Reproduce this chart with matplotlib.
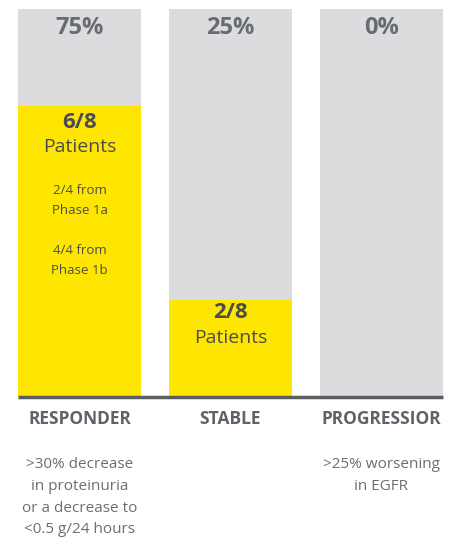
import matplotlib
matplotlib.use("Agg")
import matplotlib.pyplot as plt

plt.rcParams['font.family'] = ['Open Sans', 'DejaVu Sans']

categories = ["RESPONDER", "STABLE", "PROGRESSIOR"]
percent = [75, 25, 0]
counts = ["6/8", "2/8", ""]
descriptions = [[">30% decrease", "in proteinuria", "or a decrease to", "<0.5 g/24 hours"],
                [],
                [">25% worsening", "in EGFR"]]
responder_notes = ["2/4 from", "Phase 1a", "4/4 from", "Phase 1b"]

W, H = 453, 538
fig = plt.figure(figsize=(W / 100, H / 100), dpi=100)
fig.patch.set_facecolor("white")

left, right, top, bottom = 18, 443, 9, 397
ax = fig.add_axes([left / W, 1 - bottom / H, (right - left) / W, (bottom - top) / H])

grey = "#dcdbde"
yellow = "#ffe600"
txt = "#676c74"
dark = "#4a4d50"

step = 151
width = 123 / step
x = list(range(len(categories)))
ax.bar(x, [100] * len(x), width=width, color=grey, zorder=1)
ax.bar(x, percent, width=width, color=yellow, zorder=2)
ax.set_xlim(-width / 2, len(x) - 1 + width / 2)
ax.set_ylim(0, 100)
ax.axis("off")

# baseline under the bars
ax.plot([-width / 2, len(x) - 1 + width / 2], [0, 0], color="#5a5d62", lw=2.5,
        clip_on=False, zorder=3, solid_capstyle="butt")

def py(p):
    """pixel row (from the top of the figure) -> data y"""
    return (bottom - p) / (bottom - top) * 100

for i, p in enumerate(percent):
    ax.text(i, py(28), f"{p}%", ha="center", va="center", fontsize=17,
            fontweight="bold", color=txt)

# fraction of patients inside the yellow part
ax.text(0, py(122), counts[0], ha="center", va="center", fontsize=16,
        fontweight="bold", color=dark)
ax.text(0, py(147), "Patients", ha="center", va="center", fontsize=14, color=dark)
for line, row in zip(responder_notes, [191, 210, 251, 271]):
    ax.text(0, py(row), line, ha="center", va="center", fontsize=9.5, color=dark)
ax.text(1, py(313), counts[1], ha="center", va="center", fontsize=16,
        fontweight="bold", color=dark)
ax.text(1, py(338), "Patients", ha="center", va="center", fontsize=14, color=dark)

for i, c in enumerate(categories):
    ax.text(i, py(419), c, ha="center", va="center", fontsize=12.5,
            fontweight="bold", color="#5e6269", clip_on=False)
    for j, line in enumerate(descriptions[i]):
        ax.text(i, py(465 + 21.5 * j), line, ha="center", va="center", fontsize=11,
                color="#6a6e74", clip_on=False)

fig.savefig("out.png", dpi=100, facecolor="white")
